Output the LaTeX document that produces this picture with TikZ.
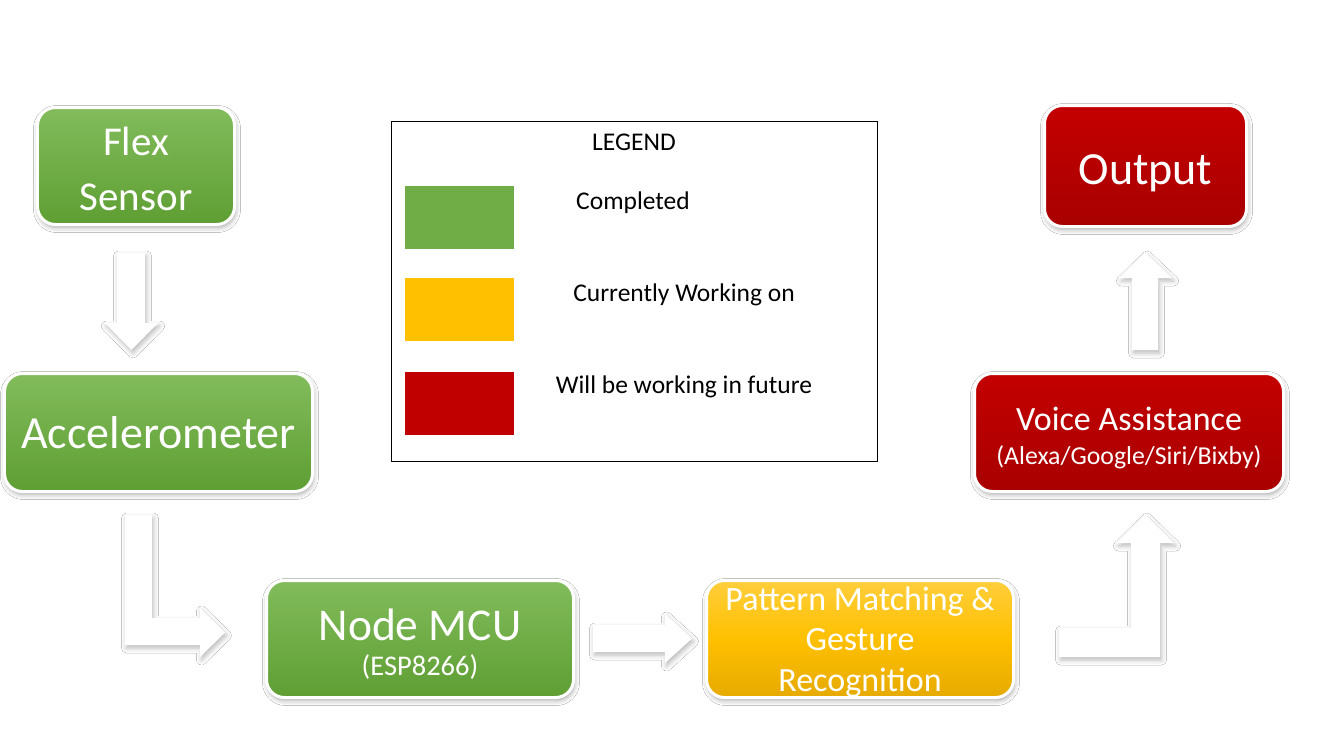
\documentclass[tikz,border=0pt]{standalone}
\usepackage{fontspec}
\setmainfont{Carlito}
\usetikzlibrary{shadows.blur}
\definecolor{gtop}{RGB}{130,188,92}
\definecolor{gbot}{RGB}{94,158,50}
\definecolor{ytop}{RGB}{255,206,60}
\definecolor{ymid}{RGB}{255,192,0}
\definecolor{ybot}{RGB}{230,170,0}
\definecolor{rtop}{RGB}{196,0,0}
\definecolor{rbot}{RGB}{168,0,0}
\definecolor{lgreen}{RGB}{112,173,71}
\definecolor{lyellow}{RGB}{255,192,0}
\definecolor{lred}{RGB}{192,0,0}
\tikzset{
  box/.style={rounded corners=18bp, draw=white, line width=3bp, text=white, align=center, inner sep=0pt,
    blur shadow={shadow xshift=1bp, shadow yshift=-3bp, shadow blur radius=5bp, shadow opacity=35}},
  greenbox/.style={box, top color=gtop, bottom color=gbot},
  yellowbox/.style={box, top color=ytop, bottom color=ybot, middle color=ymid},
  redbox/.style={box, top color=rtop, bottom color=rbot},
  boxtext/.style={text=white, inner sep=0pt, align=center},
  blockarrow/.style={fill=white, blur shadow={shadow xshift=1.5bp, shadow yshift=-3bp, shadow blur radius=5bp, shadow opacity=28}},
  swatch/.style={minimum width=109bp, minimum height=63bp, inner sep=0pt},
  legtext/.style={font=\fontsize{25.5bp}{30bp}\selectfont, text=black, inner sep=0pt},
  big/.style={font=\fontsize{46bp}{54bp}\selectfont},
}
\begin{document}
\begin{tikzpicture}[x=1bp,y=-1bp]
\useasboundingbox (0,0) rectangle (1335,745);
\fill[white] (0,0) rectangle (1335,745);

% boxes
\node[greenbox, minimum width=197bp, minimum height=117bp] (flex) at (136,166) {};
\node[boxtext, font=\fontsize{41bp}{55bp}\selectfont] (flext) at (136,169) {Flex\\Sensor};
\node[greenbox, minimum width=308bp, minimum height=118bp, big] (acc) at (158.5,432.5) {Accelerometer};
\node[greenbox, minimum width=307bp, minimum height=117bp] (mcu) at (420,639) {};
\node[boxtext, anchor=base, font=\fontsize{45.5bp}{50bp}\selectfont] (mcut) at (420,640) {Node MCU};
\node[boxtext, anchor=base, font=\fontsize{28.5bp}{32bp}\selectfont] (mcus) at (420,675) {(ESP8266)};
\node[yellowbox, minimum width=307bp, minimum height=117bp] (pat) at (860,639) {};
\node[boxtext, font=\fontsize{34bp}{40.5bp}\selectfont] (patt) at (860,642) {Pattern Matching \&\\Gesture\\Recognition};
\node[redbox, minimum width=309bp, minimum height=118bp] (voice) at (1129,432.5) {};
\node[boxtext, anchor=base, font=\fontsize{34bp}{40bp}\selectfont] (voicet) at (1129,430) {Voice Assistance};
\node[boxtext, anchor=base, font=\fontsize{25.8bp}{30bp}\selectfont] (voices) at (1129,464) {(Alexa/Google/Siri/Bixby)};
\node[redbox, minimum width=202bp, minimum height=121bp] (out) at (1145.5,166) {};
\node[boxtext, anchor=base, big] (outt) at (1145.5,184) {Output};

% arrows
\fill[blockarrow] (117,253) -- (145,253) -- (145,323) -- (158,323) -- (131.5,350) -- (105,323) -- (117,323) -- cycle;
\fill[blockarrow] (125,515) -- (152,515) -- (152,618) -- (200,618) -- (200,608) -- (225,632.5) -- (200,657) -- (200,645) -- (125,645) -- cycle;
\fill[blockarrow] (593,625) -- (665,625) -- (665,614) -- (692,638.5) -- (665,663) -- (665,652) -- (593,652) -- cycle;
\fill[blockarrow] (1059,628) -- (1131,628) -- (1131,543) -- (1117,543) -- (1145.5,515) -- (1174,543) -- (1160,543) -- (1160,657) -- (1059,657) -- cycle;
\fill[blockarrow] (1132,350) -- (1132,278) -- (1120,278) -- (1145.5,253) -- (1172,278) -- (1158,278) -- (1158,350) -- cycle;

% legend
\node[draw=black, line width=1bp, minimum width=486bp, minimum height=339bp, inner sep=0pt] (legend) at (634,291.5) {};
\node[legtext] (legtitle) at (634,142) {LEGEND};
\node[swatch, fill=lgreen] (sg) at (459.5,217.5) {};
\node[swatch, fill=lyellow] (sy) at (459.5,309.5) {};
\node[swatch, fill=lred] (sr) at (459.5,403.5) {};
\node[legtext] (lg) at (633,203) {Completed};
\node[legtext] (ly) at (684,295) {Currently Working on};
\node[legtext] (lr) at (684,387) {Will be working in future};
\end{tikzpicture}
\end{document}
